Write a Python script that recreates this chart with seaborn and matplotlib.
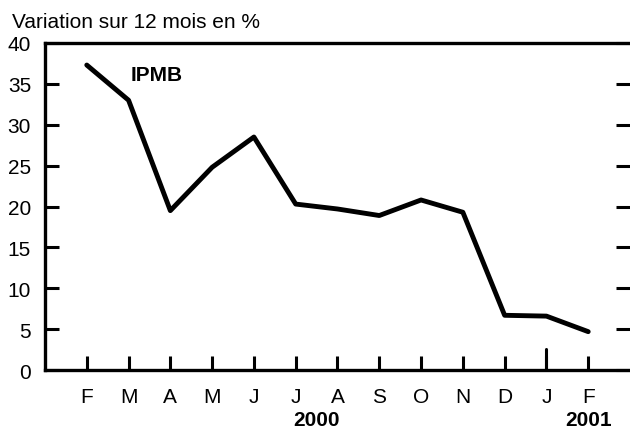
import numpy as np
import pandas as pd
import seaborn as sns
import matplotlib.pyplot as plt

# IPMB, variation sur 12 mois (Feb 2000 - Feb 2001)
months = ["F", "M", "A", "M", "J", "J", "A", "S", "O", "N", "D", "J", "F"]
ipmb = [37.3, 33.0, 19.5, 24.8, 28.5, 20.3, 19.7, 18.9, 20.8, 19.3, 6.7, 6.6, 4.7]
years = ["2000", "2001"]
year_pos = [5.5, 12]

df = pd.DataFrame({"idx": np.arange(len(months)), "ipmb": ipmb})

sns.set_style("ticks", {"axes.edgecolor": "black", "text.color": "black",
                        "xtick.color": "black", "ytick.color": "black"})
plt.rcParams["font.family"] = ["Liberation Sans", "DejaVu Sans"]

fig = plt.figure(figsize=(6.3, 4.31), dpi=100)
ax = fig.add_axes([0.0714, 0.139, 0.9286, 0.759])

sns.lineplot(data=df, x="idx", y="ipmb", color="black", linewidth=3.5, ax=ax)

ax.set_xlim(-1, 13)
ax.set_ylim(0, 40)
ax.set_xlabel("")
ax.set_ylabel("")

fs = 15
ax.set_xticks(df["idx"])
ax.set_xticklabels(months, fontsize=fs)
ax.tick_params(axis="x", direction="in", length=10, width=2.2, pad=12)
ax.set_yticks(range(0, 45, 5))
ax.tick_params(axis="y", direction="in", length=10, width=2.2, labelsize=fs, pad=10,
               right=True)
# longer tick at the year change
ax.plot([11, 11], [0, 2.6], color="black", linewidth=2.2, clip_on=False)

for s in ["left", "top", "bottom"]:
    ax.spines[s].set_linewidth(2.4)
ax.spines["right"].set_visible(False)

for y, p in zip(years, year_pos):
    ax.text(p, -6.0, y, ha="center", va="center", fontsize=fs, fontweight="bold")

ax.text(1.05, 36.2, "IPMB", ha="left", va="center", fontsize=fs, fontweight="bold")
fig.text(0.019, 0.948, "Variation sur 12 mois en %", ha="left", va="center", fontsize=fs)

fig.savefig("out.png", dpi=100)
